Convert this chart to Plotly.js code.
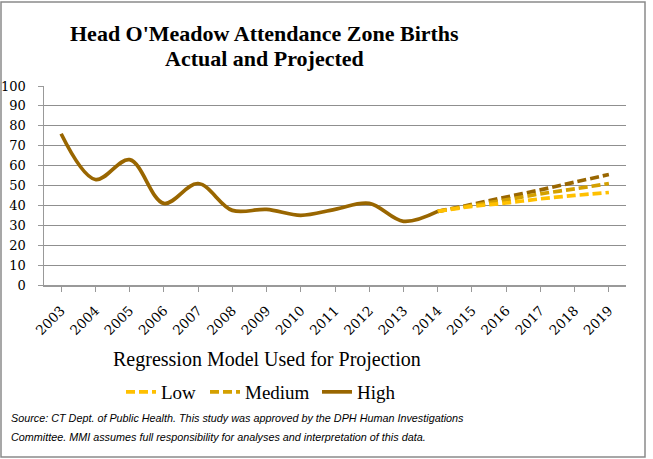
<!DOCTYPE html>
<html>
<head>
<meta charset="utf-8">
<script src="https://cdn.plot.ly/plotly-3.0.1.min.js"></script>
<style>
  html, body { margin: 0; padding: 0; background: #fff; }
  #chart { width: 653px; height: 459px; }
</style>
</head>
<body>
<div id="chart"></div>
<script>
// ---- data ----
const years = ["2003","2004","2005","2006","2007","2008","2009","2010","2011","2012","2013","2014","2015","2016","2017","2018","2019"];
const actualYears = ["2003","2004","2005","2006","2007","2008","2009","2010","2011","2012","2013","2014"];
const actualBirths = [76, 53, 63, 41, 51, 37.5, 38, 35, 38, 41, 32, 37];
const projYears = ["2014","2015","2016","2017","2018","2019"];
const lowProj = [37, 39.5, 41.2, 43.3, 45, 46.5];
const mediumProj = [37, 40, 42.8, 45.8, 48.3, 51];
const highProj = [37, 40.5, 44.2, 47.8, 51.7, 55.5];
const yTicks = [0,10,20,30,40,50,60,70,80,90,100];

// ---- layout helpers (pixel -> paper) ----
const L = 44, R = 626, T = 86, B = 285, W = 653, H = 459;
const px = p => (p - L) / (R - L);
const py = p => (B - p) / (B - T);

const cLow = "#FFC000", cMed = "#D4A000", cHigh = "#996600";
const dash = "9px,4px";
const serif = "Liberation Serif, Times New Roman, serif";
const legFont = { family: serif, size: 19, color: "#000" };
const legY = py(392);

const traces = [
  { x: projYears, y: highProj, type: "scatter", mode: "lines", name: "High",
    showlegend: false, line: { color: cHigh, width: 3.7, dash: dash, shape: "spline" }, hoverinfo: "skip" },
  { x: projYears, y: mediumProj, type: "scatter", mode: "lines", name: "Medium", legend: "legend2",
    line: { color: cMed, width: 3.7, dash: dash, shape: "spline" } },
  { x: projYears, y: lowProj, type: "scatter", mode: "lines", name: "Low", legend: "legend",
    line: { color: cLow, width: 3.7, dash: dash, shape: "spline" } },
  { x: actualYears, y: actualBirths, type: "scatter", mode: "lines", name: "High", legend: "legend3",
    line: { color: cHigh, width: 3.7, shape: "spline" } }
];

function leg(xpix) {
  return { orientation: "h", x: px(xpix), xanchor: "left", y: legY, yanchor: "middle",
           font: legFont, bgcolor: "rgba(0,0,0,0)", borderwidth: 0 };
}

const layout = {
  width: W, height: H,
  margin: { l: L, r: W - R, t: T, b: H - B },
  paper_bgcolor: "#fff", plot_bgcolor: "#fff",
  showlegend: true,
  legend: leg(121),
  legend2: leg(205),
  legend3: leg(317),
  xaxis: {
    type: "category", categoryorder: "array", categoryarray: years,
    range: [-0.5, years.length - 0.5],
    showgrid: false, zeroline: false,
    showline: true, linecolor: "#999", linewidth: 1.5,
    ticks: "outside", ticklen: 5, tickcolor: "#999", tickwidth: 1,
    tickangle: -45, ticklabelstandoff: 6,
    tickfont: { family: "DejaVu Serif, serif", size: 13.5, color: "#000" },
    fixedrange: true
  },
  yaxis: {
    range: [0, 100], tickvals: yTicks, ticktext: yTicks.map(String),
    showgrid: true, gridcolor: "#8f8f8f", gridwidth: 1,
    zeroline: false,
    showline: true, linecolor: "#999", linewidth: 1.5,
    ticks: "outside", ticklen: 5, tickcolor: "#999",
    ticklabelstandoff: 9,
    tickfont: { family: "DejaVu Serif, serif", size: 13, color: "#000" },
    fixedrange: true
  },
  shapes: [
    { type: "rect", xref: "paper", yref: "paper",
      x0: px(1), x1: px(645), y0: py(457), y1: py(2),
      line: { color: "#8a8a8a", width: 1.5 }, fillcolor: "rgba(0,0,0,0)", layer: "below" }
  ],
  annotations: [
    { text: "<b>Head O'Meadow Attendance Zone Births</b>", xref: "paper", yref: "paper",
      x: px(264), y: py(34), xanchor: "center", yanchor: "middle", showarrow: false,
      font: { family: serif, size: 22, color: "#000" } },
    { text: "<b>Actual and Projected</b>", xref: "paper", yref: "paper",
      x: px(264), y: py(59), xanchor: "center", yanchor: "middle", showarrow: false,
      font: { family: serif, size: 22, color: "#000" } },
    { text: "Regression Model Used for Projection", xref: "paper", yref: "paper",
      x: px(267), y: py(359), xanchor: "center", yanchor: "middle", showarrow: false,
      font: { family: serif, size: 20, color: "#000" } },
    { text: "<i>Source: CT Dept. of Public Health. This study was approved by the DPH Human Investigations</i>",
      xref: "paper", yref: "paper", x: px(9), y: py(418), xanchor: "left", yanchor: "middle", showarrow: false,
      font: { family: "Liberation Sans, sans-serif", size: 10.8, color: "#000" } },
    { text: "<i>Committee. MMI assumes full responsibility for analyses and interpretation of this data.</i>",
      xref: "paper", yref: "paper", x: px(9), y: py(437), xanchor: "left", yanchor: "middle", showarrow: false,
      font: { family: "Liberation Sans, sans-serif", size: 10.8, color: "#000" } }
  ]
};

Plotly.newPlot("chart", traces, layout, { displayModeBar: false, staticPlot: true });
</script>
</body>
</html>
